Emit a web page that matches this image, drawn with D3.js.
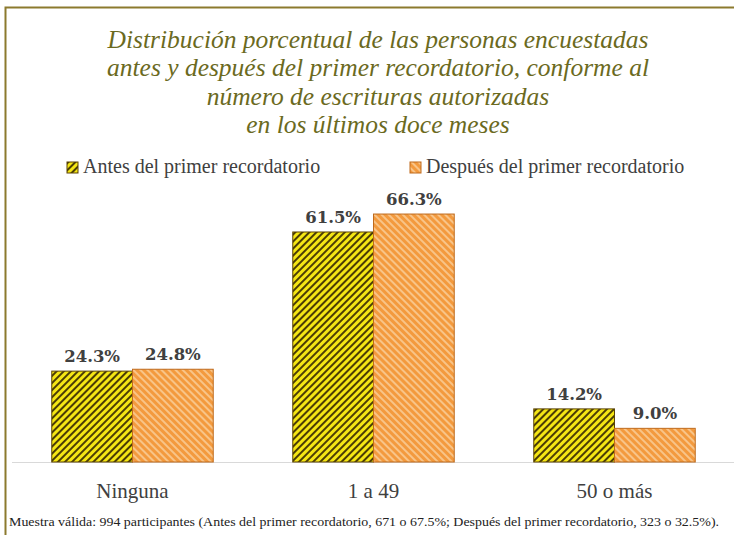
<!DOCTYPE html>
<html lang="es">
<head>
<meta charset="UTF-8">
<script src="https://cdn.jsdelivr.net/npm/d3@7/dist/d3.min.js"></script>
<style>
  body { margin: 0; background: #fff; }
  svg { display: block; }
</style>
</head>
<body>
<div id="chart"></div>
<script>
const categories = ["Ninguna", "1 a 49", "50 o más"];
const series = ["Antes del primer recordatorio", "Después del primer recordatorio"];
const antes = [24.3, 61.5, 14.2];
const despues = [24.8, 66.3, 9.0];
const titleLines = [
  "Distribución porcentual de las personas encuestadas",
  "antes y después del primer recordatorio, conforme al",
  "número de escrituras autorizadas",
  "en los últimos doce meses"
];
const note = "Muestra válida: 994 participantes (Antes del primer recordatorio, 671 o 67.5%; Después del primer recordatorio, 323 o 32.5%).";

const width = 734, height = 535;
const serif = "'Liberation Serif', 'DejaVu Serif', serif";

const svg = d3.select("#chart").append("svg")
  .attr("width", width).attr("height", height)
  .attr("viewBox", [0, 0, width, height]);

// stripe patterns (yellow: "/" dark stripes, orange: "\" light stripes)
const defs = svg.append("defs");
const pats = [
  { id: "patA", bg: "#f5e614", fg: "#4b3d05", rot: 45 },
  { id: "patB", bg: "#f39a3e", fg: "#f8c488", rot: -45 }
];
pats.forEach(p => {
  const pat = defs.append("pattern")
    .attr("id", p.id)
    .attr("patternUnits", "userSpaceOnUse")
    .attr("width", 5).attr("height", 5)
    .attr("patternTransform", `rotate(${p.rot})`);
  pat.append("rect").attr("width", 5).attr("height", 5).attr("fill", p.bg);
  pat.append("rect").attr("width", 2).attr("height", 5).attr("fill", p.fg);
});
const strokes = ["#5a4305", "#bf6a1c"];

// frame
svg.append("path")
  .attr("d", `M5.5,${height} V7.5 H${width}`)
  .attr("fill", "none").attr("stroke", "#8c7a2e").attr("stroke-width", 2);

// title
svg.append("g").selectAll("text").data(titleLines).join("text")
  .attr("x", 378).attr("y", (d, i) => 48 + i * 28.3)
  .attr("text-anchor", "middle")
  .attr("font-family", serif).attr("font-style", "italic")
  .attr("font-size", 25.5).attr("fill", "#6b6a1e")
  .text(d => d);

const x0 = d3.scaleBand().domain(categories).range([12, 735]).paddingInner(0.33).paddingOuter(0.165);
const x1 = d3.scaleBand().domain(series).range([0, x0.bandwidth()]);
const y = d3.scaleLinear().domain([0, 70]).range([462, 200.2]);

const rows = categories.map((c, i) => ({ cat: c, vals: [antes[i], despues[i]] }));

// baseline
svg.append("line")
  .attr("x1", 12).attr("x2", width).attr("y1", y(0) + 0.5).attr("y2", y(0) + 0.5)
  .attr("stroke", "#d9d9d9").attr("stroke-width", 1);

const g = svg.append("g").selectAll("g").data(rows).join("g")
  .attr("transform", d => `translate(${x0(d.cat)},0)`);

g.selectAll("rect").data(d => d.vals.map((v, j) => ({ v, j }))).join("rect")
  .attr("x", d => x1(series[d.j]))
  .attr("y", d => y(d.v))
  .attr("width", x1.bandwidth())
  .attr("height", d => y(0) - y(d.v))
  .attr("fill", d => `url(#${pats[d.j].id})`)
  .attr("stroke", d => strokes[d.j]).attr("stroke-width", 1);

g.selectAll("text").data(d => d.vals.map((v, j) => ({ v, j }))).join("text")
  .attr("x", d => x1(series[d.j]) + x1.bandwidth() / 2)
  .attr("y", d => y(d.v) - 9)
  .attr("text-anchor", "middle")
  .attr("font-family", "'DejaVu Serif', serif").attr("font-weight", "bold")
  .attr("font-size", 16.5).attr("fill", "#404040")
  .text(d => d.v.toFixed(1) + "%");

// category axis labels
svg.append("g").selectAll("text").data(categories).join("text")
  .attr("x", d => x0(d) + x0.bandwidth() / 2)
  .attr("y", 498)
  .attr("text-anchor", "middle")
  .attr("font-family", serif).attr("font-size", 21).attr("fill", "#404040")
  .text(d => d);

// legend
const legX = [67, 410];
const lg = svg.append("g").selectAll("g").data(series).join("g")
  .attr("transform", (d, i) => `translate(${legX[i]},162)`);
lg.append("rect").attr("width", 11).attr("height", 11)
  .attr("fill", (d, i) => `url(#${pats[i].id})`)
  .attr("stroke", (d, i) => strokes[i]);
lg.append("text").attr("x", 16).attr("y", 11)
  .attr("font-family", serif).attr("font-size", 20).attr("fill", "#404040")
  .text(d => d);

// note
svg.append("text")
  .attr("x", 9).attr("y", 526)
  .attr("font-family", serif).attr("font-size", 12.5).attr("fill", "#222")
  .attr("textLength", 710).attr("lengthAdjust", "spacingAndGlyphs")
  .text(note);
</script>
</body>
</html>
